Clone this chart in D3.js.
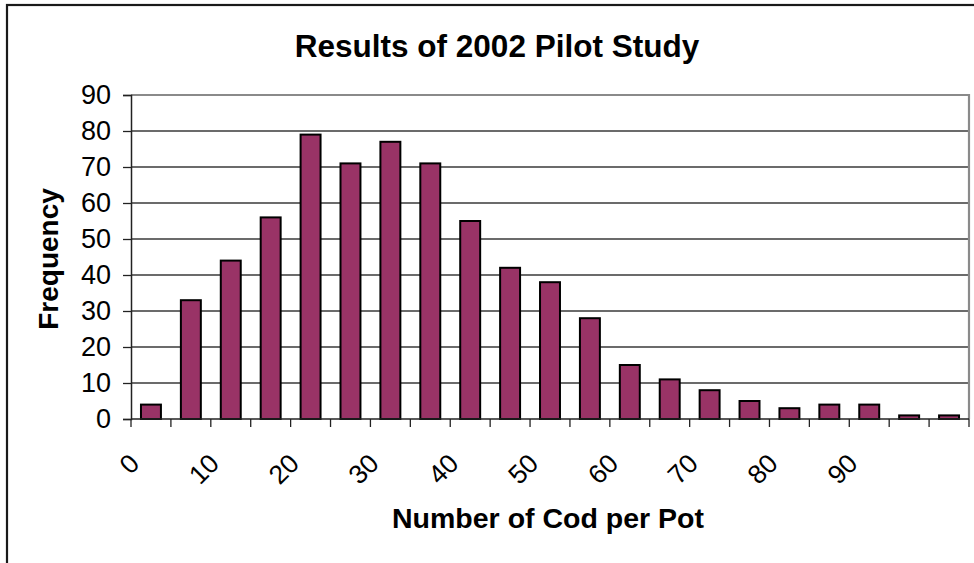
<!DOCTYPE html>
<html>
<head>
<meta charset="utf-8">
<script src="https://cdn.jsdelivr.net/npm/d3@7"></script>
<style>
  html, body { margin: 0; padding: 0; background: #fff; }
  svg { display: block; }
  text { font-family: "Liberation Sans", Arial, sans-serif; }
</style>
</head>
<body>
<svg id="chart" width="974" height="563"></svg>
<script>
const categories = ["0","5","10","15","20","25","30","35","40","45","50","55","60","65","70","75","80","85","90","95","100"];
const frequency = [4, 33, 44, 56, 79, 71, 77, 71, 55, 42, 38, 28, 15, 11, 8, 5, 3, 4, 4, 1, 1];
const xTickLabels = ["0","10","20","30","40","50","60","70","80","90"];
const yTicks = [0, 10, 20, 30, 40, 50, 60, 70, 80, 90];
const titleText = "Results of 2002 Pilot Study";
const xTitle = "Number of Cod per Pot";
const yTitle = "Frequency";

const svg = d3.select("#chart");
const plot = { left: 131, right: 969, top: 95, bottom: 419 };

// outer chart frame
svg.append("rect")
  .attr("x", 7).attr("y", 5).attr("width", 990).attr("height", 590)
  .attr("fill", "#fff").attr("stroke", "#1a1a1a").attr("stroke-width", 2.2);

const x = d3.scaleBand().domain(categories).range([plot.left, plot.right]).paddingInner(0.5).paddingOuter(0.25);
const xEdges = d3.scaleLinear().domain([0, categories.length]).range([plot.left, plot.right]);
const y = d3.scaleLinear().domain([0, 90]).range([plot.bottom, plot.top]);

// gridlines
svg.append("g").selectAll("line").data(yTicks.filter(d => d > 0 && d < 90)).join("line")
  .attr("x1", plot.left).attr("x2", plot.right)
  .attr("y1", d => y(d)).attr("y2", d => y(d))
  .attr("stroke", "#3a3a3a").attr("stroke-width", 1.3);

// plot area border (top & right)
svg.append("path")
  .attr("d", `M${plot.left},${y(90)}H${plot.right}V${plot.bottom}`)
  .attr("fill", "none").attr("stroke", "#8a8a8a").attr("stroke-width", 2.2);

// bars
svg.append("g").selectAll("rect").data(frequency).join("rect")
  .attr("x", (d, i) => x(categories[i]))
  .attr("width", x.bandwidth())
  .attr("y", d => y(d))
  .attr("height", d => y(0) - y(d))
  .attr("fill", "#993366")
  .attr("stroke", "#000").attr("stroke-width", 2);

// y axis
const yAxis = d3.axisLeft(y).tickValues(yTicks).tickSize(8).tickPadding(12);
const yg = svg.append("g").attr("transform", `translate(${plot.left},0)`).call(yAxis);
yg.select(".domain").attr("stroke", "#222").attr("stroke-width", 1.5);
yg.selectAll(".tick line").attr("stroke", "#222").attr("stroke-width", 1.3);
yg.selectAll(".tick text").attr("font-size", 27).attr("fill", "#000")
  .attr("font-family", "'Liberation Sans', Arial, sans-serif");

// x axis line and ticks at category edges
const xg = svg.append("g");
xg.append("line").attr("x1", plot.left).attr("x2", plot.right)
  .attr("y1", plot.bottom).attr("y2", plot.bottom)
  .attr("stroke", "#222").attr("stroke-width", 1.5);
xg.selectAll("line.tk").data(d3.range(categories.length + 1)).join("line")
  .attr("class", "tk")
  .attr("x1", d => xEdges(d)).attr("x2", d => xEdges(d))
  .attr("y1", plot.bottom).attr("y2", plot.bottom + 8)
  .attr("stroke", "#222").attr("stroke-width", 1.3);

// x tick labels (rotated)
xg.selectAll("text").data(categories.filter(c => xTickLabels.includes(c))).join("text")
  .attr("transform", d => `translate(${x(d) + x.bandwidth() / 2 - 10},465) rotate(-45)`)
  .attr("text-anchor", "end")
  .attr("font-size", 26.5)
  .attr("fill", "#000")
  .text(d => d);

// titles
svg.append("text").attr("x", 497).attr("y", 57).attr("text-anchor", "middle")
  .attr("font-size", 31.5).attr("font-weight", "bold").text(titleText);
svg.append("text").attr("x", 548).attr("y", 528).attr("text-anchor", "middle")
  .attr("font-size", 28.5).attr("font-weight", "bold").text(xTitle);
svg.append("text").attr("transform", "translate(58,259) rotate(-90)")
  .attr("text-anchor", "middle")
  .attr("font-size", 28).attr("font-weight", "bold").text(yTitle);
</script>
</body>
</html>
